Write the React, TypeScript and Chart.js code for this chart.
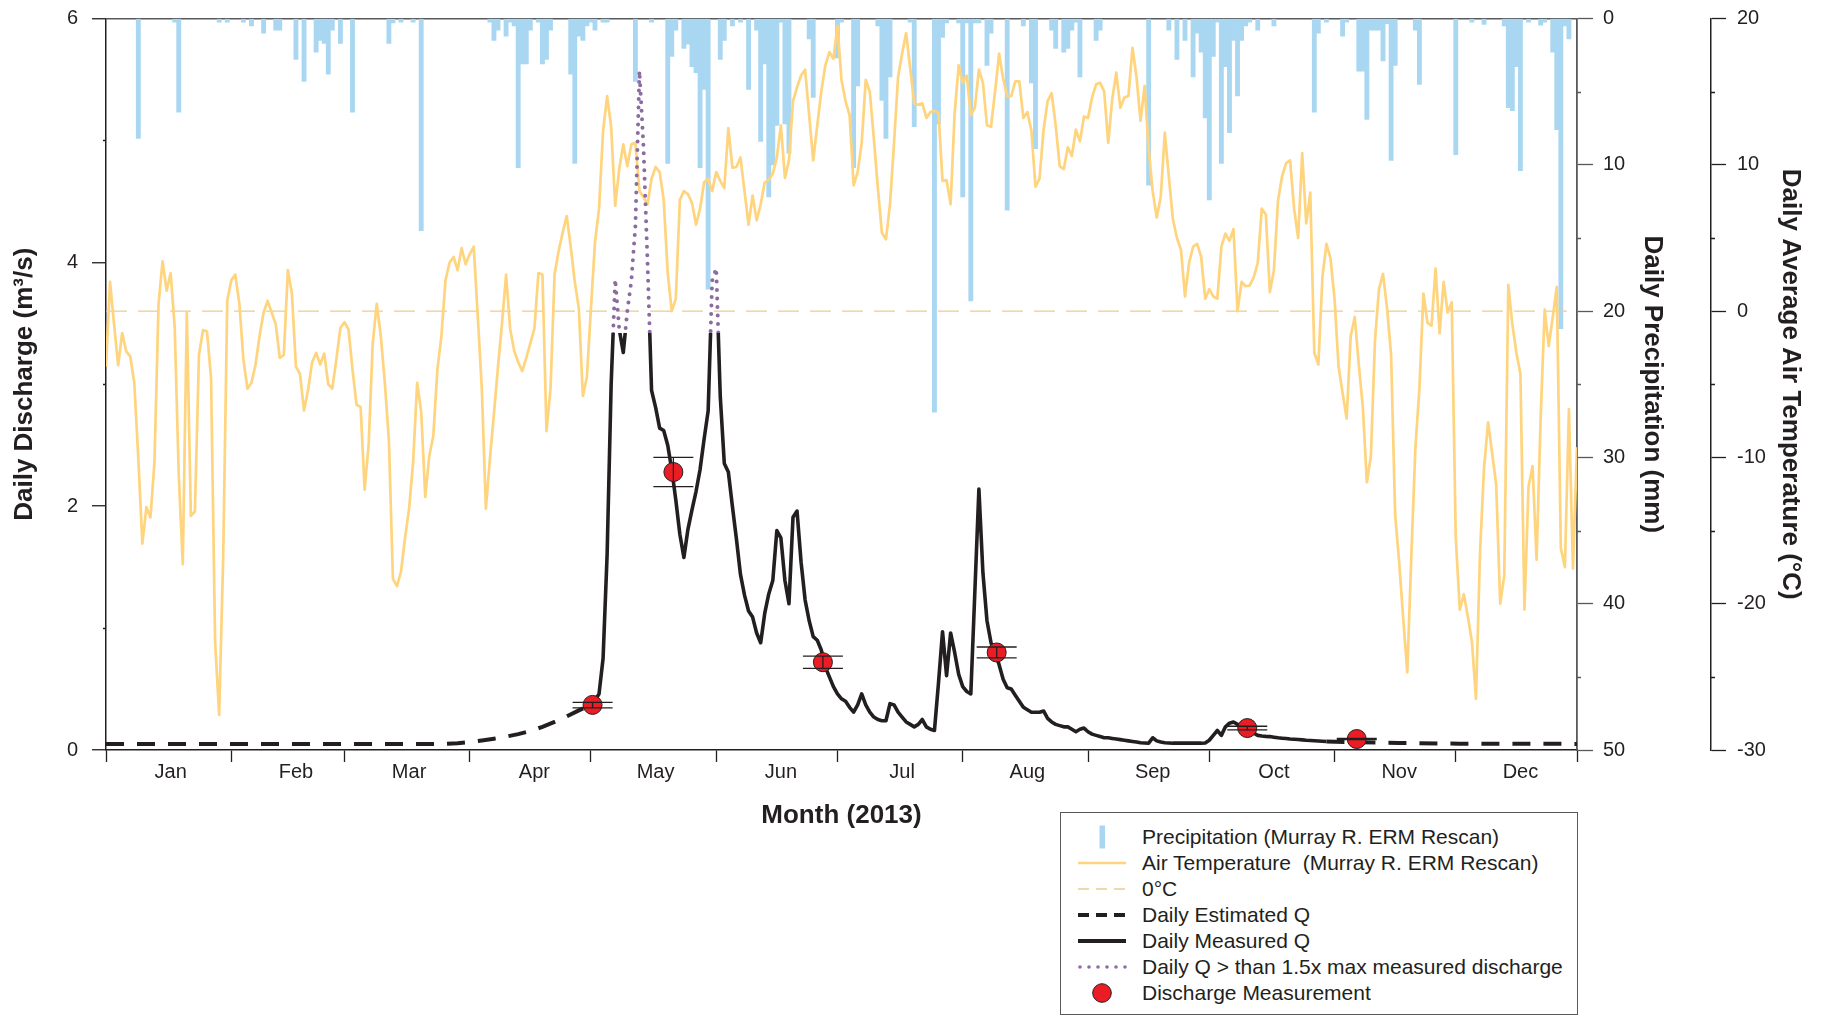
import React, { useEffect, useRef } from 'react';
import { Chart, registerables } from 'chart.js';

Chart.register(...registerables);

const FONT = '"Liberation Sans", Arial, Helvetica, sans-serif';
const INK = '#231f20';
const GREY = '#58595b';
const TEMP_COLOR = '#FFD47E';
const RAIN_COLOR = '#A9D7F1';
const ZERO_COLOR = '#EBCB94';
const PEAK_COLOR = '#8C6BA1';
const SAMPLE_COLOR = '#EC1C24';

// ---- calendar (day 0 = 1 Jan 2013, day 364 = 31 Dec 2013) ----
const monthLabels = ['Jan', 'Feb', 'Mar', 'Apr', 'May', 'Jun', 'Jul', 'Aug', 'Sep', 'Oct', 'Nov', 'Dec'];
const monthStartDays = [0, 31, 59, 90, 120, 151, 181, 212, 243, 273, 304, 334];
const lastDay = 364;

// ---- daily average air temperature (°C), one value per day ----
const airTempC = [
  -3.8, 2.0, -0.9, -3.7, -1.5, -2.75, -3.1, -4.9, -10.1, -15.9,
  -13.4, -14.1, -10.3, 0.5, 3.4, 1.4, 2.6, -1.1, -11.2, -17.3,
  -0.1, -14.0, -13.7, -3.0, -1.3, -1.4, -4.6, -22.6, -27.6, -16.8,
  0.7, 2.1, 2.5, 0.5, -3.3, -5.3, -4.9, -3.65, -1.7, -0.1,
  0.7, -0.1, -0.9, -3.2, -3.0, 2.8, 1.2, -3.8, -4.3, -6.8,
  -5.4, -3.5, -2.85, -3.65, -2.9, -5.0, -5.3, -3.3, -1.15, -0.76,
  -1.24, -4.0, -6.4, -6.55, -12.2, -9.1, -2.2, 0.5, -1.7, -4.9,
  -8.8, -18.3, -18.8, -17.8, -15.5, -13.5, -10.3, -4.9, -6.9, -12.7,
  -9.9, -8.5, -4.0, -1.7, 2.1, 3.3, 3.7, 2.8, 4.3, 3.2,
  3.9, 4.4, -0.4, -5.3, -13.5, -10.1, -7.0, -3.8, -0.8, 2.5,
  -1.2, -2.7, -3.5, -4.1, -3.2, -2.2, -1.2, 2.6, 2.5, -8.2,
  -5.3, 2.5, 4.1, 5.35, 6.5, 4.4, 2.0, 0.2, -5.8, -4.5,
  0.2, 4.7, 7.0, 12.3, 14.7, 12.6, 7.2, 9.7, 11.4, 9.9,
  11.4, 11.5, 8.2, 7.8, 7.3, 9.05, 9.85, 9.5, 7.6, 2.6,
  0.0, 0.85, 7.6, 8.2, 8.0, 7.4, 5.9, 7.0, 8.8, 9.05,
  8.2, 9.5, 8.9, 8.4, 12.5, 9.8, 9.85, 10.5, 8.2, 5.9,
  7.9, 6.2, 7.3, 8.8, 8.95, 9.4, 10.5, 12.7, 9.1, 10.3,
  14.35, 15.3, 16.1, 16.5, 13.4, 10.3, 12.7, 15.0, 16.8, 17.7,
  17.25, 19.5, 15.8, 14.35, 13.4, 8.6, 9.5, 11.5, 15.8, 15.0,
  11.8, 8.4, 5.35, 4.9, 7.3, 11.5, 16.0, 17.6, 19.0, 16.6,
  14.2, 14.1, 14.2, 13.2, 13.6, 13.7, 13.55, 8.9, 8.95, 7.3,
  13.55, 16.8, 15.6, 16.1, 13.4, 13.9, 16.5, 15.6, 12.7, 12.6,
  15.0, 17.6, 15.9, 14.7, 14.7, 15.7, 15.7, 13.2, 13.6, 12.3,
  8.5, 9.05, 12.4, 14.35, 14.9, 12.7, 9.9, 9.7, 11.2, 10.6,
  12.4, 11.6, 13.3, 13.2, 14.6, 15.5, 15.6, 15.0, 11.5, 14.5,
  16.3, 13.9, 14.6, 14.7, 18.0, 16.0, 13.0, 15.4, 11.1, 8.2,
  6.4, 7.8, 12.2, 9.2, 6.3, 5.0, 4.2, 1.0, 3.3, 4.4,
  4.6, 3.7, 0.85, 1.5, 1.0, 0.85, 4.4, 5.3, 4.8, 5.6,
  0.0, 2.0, 1.7, 1.75, 2.3, 3.3, 7.0, 6.6, 1.3, 2.8,
  7.5, 9.2, 10.1, 10.3, 7.0, 5.0, 10.8, 6.0, 8.1, -2.85,
  -3.65, 2.3, 4.6, 3.6, 0.85, -3.8, -5.6, -7.35, -1.7, -0.4,
  -3.65, -6.55, -11.7, -9.9, -2.05, 1.5, 2.55, 0.2, -3.0, -13.9,
  -17.2, -21.0, -24.7, -16.8, -9.4, -5.3, 1.2, -0.8, -1.0, 2.9,
  -1.5, 2.0, -0.1, 0.6, -15.5, -20.4, -19.35, -20.9, -22.6, -26.5,
  -16.5, -10.7, -7.6, -9.7, -11.85, -20.0, -18.1, 1.8, -0.9, -2.85,
  -4.3, -20.4, -12.0, -10.6, -17.0, -7.35, 0.1, -2.4, -0.4, 1.65,
  -16.2, -17.5, -6.7, -17.6, -9.3,
];

// ---- daily precipitation (mm), wet days only ----
const rainDays = [
  8, 17, 18, 28, 30, 34, 36, 39, 42, 43, 47, 49, 52, 53, 54, 55, 56, 58, 61, 70,
  71, 73, 76, 78, 95, 96, 97, 99, 100, 101, 102, 103, 104, 105, 107, 108, 109, 110, 115, 116,
  117, 118, 119, 120, 121, 123, 124, 131, 135, 139, 140, 141, 143, 144, 145, 146, 147, 148, 149, 152,
  153, 155, 157, 159, 161, 162, 163, 164, 165, 166, 167, 168, 169, 174, 175, 181, 182, 185, 186, 191,
  192, 193, 194, 199, 200, 205, 206, 207, 208, 211, 212, 213, 214, 215, 216, 218, 219, 223, 227, 229,
  230, 234, 235, 237, 238, 239, 240, 241, 245, 246, 258, 263, 265, 267, 269, 270, 271, 272, 273, 274,
  275, 276, 277, 278, 279, 280, 281, 282, 283, 285, 289, 299, 300, 302, 306, 307, 310, 311, 312, 313,
  314, 315, 316, 317, 318, 319, 324, 325, 334, 338, 341, 346, 347, 348, 349, 350, 352, 355, 356, 358,
  359, 360, 361, 362,
];
const rainMm = [
  8.2, 0.25, 6.4, 0.25, 0.25, 0.25, 0.5, 1.0, 0.8, 0.8, 2.8, 4.3, 2.3, 1.5, 1.7, 3.8, 0.8, 1.7, 6.4, 1.7,
  0.3, 0.25, 0.25, 14.5, 0.25, 1.5, 0.8, 1.2, 0.25, 0.5, 10.2, 3.1, 3.1, 0.8, 0.25, 3.1, 2.8, 0.8, 3.8, 9.9,
  1.2, 1.5, 0.5, 0.25, 0.8, 0.25, 0.25, 4.3, 0.25, 9.9, 2.6, 0.8, 2.05, 1.75, 3.3, 3.7, 10.2, 4.85, 18.5, 2.8,
  1.5, 0.5, 0.25, 4.85, 0.8, 8.4, 3.1, 12.2, 10.0, 7.3, 0.25, 7.2, 9.2, 1.4, 5.4, 2.7, 0.25, 10.2, 4.6, 0.5,
  5.6, 8.2, 4.0, 0.25, 7.4, 26.9, 7.2, 1.3, 0.3, 0.3, 12.2, 0.3, 19.3, 0.3, 0.3, 3.2, 1.0, 13.1, 0.5, 4.4,
  8.9, 0.8, 2.05, 2.3, 2.05, 0.8, 0.25, 4.0, 1.5, 0.8, 11.4, 0.8, 2.8, 1.5, 4.0, 1.0, 2.3, 6.8, 12.4, 2.6,
  0.25, 9.9, 3.3, 7.8, 1.5, 5.3, 1.5, 0.5, 0.25, 0.8, 0.5, 6.4, 1.0, 0.25, 1.2, 0.25, 3.6, 3.6, 6.9, 0.8,
  0.8, 0.8, 2.9, 0.35, 9.7, 3.2, 0.8, 4.5, 9.3, 0.25, 0.4, 0.5, 6.1, 6.3, 3.3, 10.4, 0.25, 0.45, 0.25, 2.3,
  7.6, 21.2, 0.5, 1.4,
];

// ---- daily discharge (m³/s) ----
// estimated before gauging began and after it ended
const estDaysEarly = [0, 84, 87, 90, 93, 96, 99, 102, 105, 108, 111, 114, 117, 120];
const estQEarly = [0.05, 0.05, 0.056, 0.065, 0.078, 0.093, 0.11, 0.13, 0.155, 0.19, 0.23, 0.275, 0.325, 0.37];
const estDaysLate = [302, 310, 320, 335, 364];
const estQLate = [0.07, 0.063, 0.057, 0.052, 0.05];

// measured record, one value per day starting on day 120
const measuredFirstDay = 120;
const measuredQ = [
  0.37, 0.41, 0.46, 0.75, 1.60, 3.00, 3.86, 3.45, 3.26, 3.60,
  3.85, 4.30, 5.57, 4.95, 4.00, 2.95, 2.81, 2.64, 2.62, 2.50,
  2.30, 2.05, 1.77, 1.58, 1.81, 1.97, 2.12, 2.30, 2.55, 2.78,
  3.85, 3.95, 2.90, 2.35, 2.28, 2.00, 1.73, 1.44, 1.27, 1.14,
  1.09, 0.96, 0.88, 1.12, 1.28, 1.39, 1.80, 1.74, 1.39, 1.20,
  1.91, 1.96, 1.54, 1.23, 1.06, 0.93, 0.90, 0.82, 0.68, 0.60,
  0.52, 0.46, 0.42, 0.40, 0.35, 0.31, 0.37, 0.46, 0.37, 0.31,
  0.27, 0.25, 0.24, 0.24, 0.38, 0.37, 0.31, 0.27, 0.23, 0.21,
  0.19, 0.21, 0.25, 0.19, 0.17, 0.16, 0.55, 0.97, 0.61, 0.96,
  0.80, 0.62, 0.52, 0.48, 0.46, 1.30, 2.14, 1.45, 1.06, 0.88,
  0.80, 0.70, 0.58, 0.51, 0.50, 0.45, 0.40, 0.35, 0.33, 0.31,
  0.31, 0.31, 0.32, 0.26, 0.23, 0.21, 0.20, 0.19, 0.19, 0.17,
  0.15, 0.17, 0.18, 0.15, 0.13, 0.12, 0.11, 0.10, 0.10, 0.095,
  0.09, 0.085, 0.08, 0.075, 0.07, 0.065, 0.06, 0.058, 0.056, 0.10,
  0.075, 0.065, 0.06, 0.058, 0.056, 0.056, 0.056, 0.056, 0.056, 0.056,
  0.056, 0.056, 0.058, 0.08, 0.12, 0.16, 0.12, 0.19, 0.22, 0.23,
  0.21, 0.19, 0.18, 0.16, 0.14, 0.12, 0.115, 0.112, 0.11, 0.105,
  0.10, 0.097, 0.094, 0.09, 0.088, 0.086, 0.083, 0.08, 0.078, 0.076,
  0.074, 0.072, 0.07,
];

// field discharge measurements with their uncertainty range
const sampleDays = [120.4, 140.4, 177.4, 220.4, 282.4, 309.5];
const sampleQ = [0.37, 2.28, 0.72, 0.8, 0.18, 0.09];
const sampleLow = [0.345, 2.16, 0.67, 0.755, 0.165, 0.085];
const sampleHigh = [0.39, 2.4, 0.77, 0.845, 0.195, 0.095];

// daily Q above this is flagged (1.5x the largest measured discharge)
const peakLimit = 1.5 * Math.max(...sampleQ);

// month names sit near the middle of each month (the 16th/17th)
const monthLabelDays = monthStartDays.map((s) => s + 16);
const monthEdges = [...monthStartDays, lastDay];
const xTickValues = [...monthEdges, ...monthLabelDays].sort((a, b) => a - b);

const toXY = (xs: number[], ys: number[]) => xs.map((x, i) => ({ x, y: ys[i] }));
const measuredPoints = measuredQ.map((q, i) => ({ x: measuredFirstDay + i, y: q }));

// splits the measured hydrograph at the flag threshold: solid below, dotted above
const peakClipPlugin = {
  id: 'peakClip',
  beforeDatasetDraw(chart: any, args: any) {
    const ds = chart.data.datasets[args.index];
    if (!ds.qBand) return;
    const { ctx, chartArea: a } = chart;
    const yLim = chart.scales.y.getPixelForValue(peakLimit);
    ctx.save();
    ctx.beginPath();
    if (ds.qBand === 'low') ctx.rect(a.left - 10, yLim, a.right - a.left + 20, a.bottom - yLim + 10);
    else ctx.rect(a.left - 10, a.top - 10, a.right - a.left + 20, yLim - a.top + 10);
    ctx.clip();
  },
  afterDatasetDraw(chart: any, args: any) {
    const ds = chart.data.datasets[args.index];
    if (ds.qBand) chart.ctx.restore();
  },
};

// uncertainty bars on the field measurements
const errorBarPlugin = {
  id: 'sampleErrorBars',
  afterDatasetsDraw(chart: any) {
    const { ctx } = chart;
    const xs = chart.scales.x;
    const ys = chart.scales.y;
    const cap = 20;
    ctx.save();
    ctx.strokeStyle = INK;
    ctx.lineWidth = 1.3;
    sampleDays.forEach((d, i) => {
      const x = xs.getPixelForValue(d);
      const yLo = ys.getPixelForValue(sampleLow[i]);
      const yHi = ys.getPixelForValue(sampleHigh[i]);
      ctx.beginPath();
      ctx.moveTo(x, yLo);
      ctx.lineTo(x, yHi);
      ctx.moveTo(x - cap, yLo);
      ctx.lineTo(x + cap, yLo);
      ctx.moveTo(x - cap, yHi);
      ctx.lineTo(x + cap, yHi);
      ctx.stroke();
    });
    ctx.restore();
  },
};

// short unlabelled ticks between the labelled ones
const minorTickPlugin = {
  id: 'minorTicks',
  afterDraw(chart: any) {
    const { ctx, chartArea: a, scales } = chart;
    const draw = (scale: any, values: number[], x0: number, x1: number, color: string) => {
      ctx.save();
      ctx.strokeStyle = color;
      ctx.lineWidth = 1.3;
      ctx.beginPath();
      values.forEach((v) => {
        const y = Math.round(scale.getPixelForValue(v)) + 0.5;
        ctx.moveTo(x0, y);
        ctx.lineTo(x1, y);
      });
      ctx.stroke();
      ctx.restore();
    };
    draw(scales.y, [1, 3, 5], a.left - 3, a.left, INK);
    draw(scales.y2, [5, 15, 25, 35, 45], a.right, a.right + 4, GREY);
    draw(scales.y3, [15, 5, -5, -15, -25], scales.y3.left, scales.y3.left + 4, INK);
  },
};

const titleFont = { size: 26, weight: 'bold' as const, family: FONT };
const tickFont = { size: 20, family: FONT };

function buildConfig(): any {
  return {
    type: 'line',
    data: {
      datasets: [
        {
          type: 'bar',
          label: 'Precipitation',
          data: toXY(rainDays, rainMm),
          yAxisID: 'y2',
          backgroundColor: RAIN_COLOR,
          borderWidth: 0,
          barThickness: 4.2,
          order: 10,
        },
        {
          label: '0°C',
          data: [{ x: 0, y: 0 }, { x: lastDay, y: 0 }],
          yAxisID: 'y3',
          borderColor: ZERO_COLOR,
          borderWidth: 1.3,
          borderDash: [21, 11],
          pointRadius: 0,
          order: 9,
        },
        {
          label: 'Air Temperature',
          data: airTempC.map((t, d) => ({ x: d, y: t })),
          yAxisID: 'y3',
          borderColor: TEMP_COLOR,
          borderWidth: 2.7,
          borderJoinStyle: 'round',
          pointRadius: 0,
          tension: 0,
          order: 8,
        },
        {
          label: 'Daily Estimated Q',
          data: toXY(estDaysEarly, estQEarly),
          yAxisID: 'y',
          borderColor: INK,
          borderWidth: 4,
          borderDash: [18, 13],
          pointRadius: 0,
          order: 6,
        },
        {
          label: 'Daily Estimated Q (late)',
          data: toXY(estDaysLate, estQLate),
          yAxisID: 'y',
          borderColor: INK,
          borderWidth: 4,
          borderDash: [18, 13],
          pointRadius: 0,
          order: 6,
        },
        {
          label: 'Daily Measured Q',
          data: measuredPoints,
          yAxisID: 'y',
          borderColor: INK,
          borderWidth: 3.6,
          borderJoinStyle: 'round',
          pointRadius: 0,
          qBand: 'low',
          order: 5,
        },
        {
          label: 'Daily Q > than 1.5x max measured discharge',
          data: measuredPoints,
          yAxisID: 'y',
          borderColor: PEAK_COLOR,
          borderWidth: 4,
          borderDash: [0, 8.5],
          borderCapStyle: 'round',
          pointRadius: 0,
          qBand: 'high',
          order: 4,
        },
        {
          label: 'Discharge Measurement',
          data: toXY(sampleDays, sampleQ),
          yAxisID: 'y',
          showLine: false,
          pointRadius: 9.5,
          pointBackgroundColor: SAMPLE_COLOR,
          pointBorderColor: INK,
          pointBorderWidth: 1,
          order: 1,
        },
      ],
    },
    options: {
      responsive: true,
      maintainAspectRatio: false,
      animation: false,
      events: [],
      layout: { padding: { top: 8, right: 0, bottom: 166, left: 0 } },
      plugins: { legend: { display: false }, tooltip: { enabled: false } },
      scales: {
        x: {
          type: 'linear',
          min: 0,
          max: lastDay,
          offset: false,
          afterBuildTicks: (s: any) => {
            s.ticks = xTickValues.map((v) => ({ value: v }));
          },
          afterFit: (s: any) => {
            s.height = 92;
            s.paddingLeft = 0;
            s.paddingRight = 0;
          },
          ticks: {
            autoSkip: false,
            maxRotation: 0,
            minRotation: 0,
            padding: 0,
            color: INK,
            font: { ...tickFont, lineHeight: 1 },
            callback: (v: number) => {
              const i = monthLabelDays.indexOf(v);
              return i >= 0 ? monthLabels[i] : '';
            },
          },
          grid: {
            offset: false,
            drawOnChartArea: false,
            drawTicks: true,
            tickLength: 12,
            tickWidth: 1.3,
            tickColor: (c: any) => (c.tick && monthEdges.includes(c.tick.value) ? INK : 'rgba(0,0,0,0)'),
          },
          border: { display: true, color: INK, width: 1.5 },
          title: {
            display: true,
            text: 'Month (2013)',
            color: INK,
            font: titleFont,
            padding: { top: 0, bottom: 11 },
          },
        },
        y: {
          position: 'left',
          min: 0,
          max: 6,
          afterBuildTicks: (s: any) => {
            s.ticks = [0, 2, 4, 6].map((v) => ({ value: v }));
          },
          afterFit: (s: any) => {
            s.width = 98;
            s.paddingTop = 0;
            s.paddingBottom = 0;
          },
          ticks: { padding: 14, color: INK, font: tickFont },
          grid: {
            drawOnChartArea: true,
            color: (c: any) => (c.tick && c.tick.value === 6 ? GREY : 'rgba(0,0,0,0)'),
            lineWidth: 1.5,
            tickLength: 14,
            tickWidth: 1.3,
            tickColor: INK,
          },
          border: { display: true, color: INK, width: 1.5 },
          title: {
            display: true,
            text: 'Daily Discharge (m³/s)',
            color: INK,
            font: titleFont,
            padding: { top: 1, bottom: 0 },
          },
        },
        y2: {
          position: 'right',
          weight: 1,
          reverse: true,
          min: 0,
          max: 50,
          afterBuildTicks: (s: any) => {
            s.ticks = [0, 10, 20, 30, 40, 50].map((v) => ({ value: v }));
          },
          afterFit: (s: any) => {
            s.width = 134;
            s.paddingTop = 0;
            s.paddingBottom = 0;
          },
          ticks: { padding: 10, color: INK, font: tickFont },
          grid: { offset: false, drawOnChartArea: false, tickLength: 16, tickWidth: 1.3, tickColor: GREY },
          border: { display: true, color: GREY, width: 1.8 },
          title: {
            display: true,
            text: 'Daily Precipitation (mm)',
            color: INK,
            font: titleFont,
            padding: { top: 43, bottom: 0 },
          },
        },
        y3: {
          position: 'right',
          weight: 2,
          min: -30,
          max: 20,
          afterBuildTicks: (s: any) => {
            s.ticks = [-30, -20, -10, 0, 10, 20].map((v) => ({ value: v }));
          },
          afterFit: (s: any) => {
            s.width = 103;
            s.paddingTop = 0;
            s.paddingBottom = 0;
          },
          ticks: { padding: 11, color: INK, font: tickFont },
          grid: { drawOnChartArea: false, tickLength: 15, tickWidth: 1.3, tickColor: INK },
          border: { display: true, color: INK, width: 1.5 },
          title: {
            display: true,
            text: 'Daily Average Air Temperature (°C)',
            color: INK,
            font: titleFont,
            padding: { top: 8, bottom: 0 },
          },
        },
      },
    },
    plugins: [peakClipPlugin, errorBarPlugin, minorTickPlugin],
  };
}

type LegendKind = 'bar' | 'temp' | 'zero' | 'est' | 'meas' | 'peak' | 'dot';
const legendItems: { kind: LegendKind; text: string }[] = [
  { kind: 'bar', text: 'Precipitation (Murray R. ERM Rescan)' },
  { kind: 'temp', text: 'Air Temperature  (Murray R. ERM Rescan)' },
  { kind: 'zero', text: '0°C' },
  { kind: 'est', text: 'Daily Estimated Q' },
  { kind: 'meas', text: 'Daily Measured Q' },
  { kind: 'peak', text: 'Daily Q > than 1.5x max measured discharge' },
  { kind: 'dot', text: 'Discharge Measurement' },
];

function LegendSymbol({ kind }: { kind: LegendKind }) {
  let shape: React.ReactNode = null;
  if (kind === 'bar') shape = <rect x={38.5} y={1.5} width={5.5} height={23} fill={RAIN_COLOR} />;
  if (kind === 'temp') shape = <line x1={17} y1={13} x2={65} y2={13} stroke={TEMP_COLOR} strokeWidth={2.6} />;
  if (kind === 'zero')
    shape = <line x1={17} y1={13} x2={65} y2={13} stroke={ZERO_COLOR} strokeWidth={1.3} strokeDasharray="11 7" />;
  if (kind === 'est')
    shape = <line x1={17} y1={13} x2={65} y2={13} stroke={INK} strokeWidth={4} strokeDasharray="11 7" />;
  if (kind === 'meas') shape = <line x1={17} y1={13} x2={65} y2={13} stroke={INK} strokeWidth={4} />;
  if (kind === 'peak')
    shape = (
      <line
        x1={19}
        y1={13}
        x2={65}
        y2={13}
        stroke={PEAK_COLOR}
        strokeWidth={3.6}
        strokeDasharray="0 9"
        strokeLinecap="round"
      />
    );
  if (kind === 'dot') shape = <circle cx={41} cy={13} r={9.3} fill={SAMPLE_COLOR} stroke={INK} strokeWidth={1} />;
  return (
    <svg width={81} height={26} style={{ display: 'block', flex: '0 0 auto' }}>
      {shape}
    </svg>
  );
}

function Legend() {
  return (
    <div
      style={{
        position: 'absolute',
        left: 1052,
        top: 804,
        width: 518,
        height: 203,
        boxSizing: 'border-box',
        border: `1.5px solid ${GREY}`,
        background: '#fff',
        paddingTop: 11,
        fontFamily: FONT,
        fontSize: 21,
        color: INK,
      }}
    >
      {legendItems.map((it) => (
        <div key={it.text} style={{ display: 'flex', alignItems: 'center', height: 26 }}>
          <LegendSymbol kind={it.kind} />
          <span style={{ whiteSpace: 'pre', lineHeight: '26px' }}>{it.text}</span>
        </div>
      ))}
    </div>
  );
}

export default function App() {
  const canvasRef = useRef<HTMLCanvasElement | null>(null);

  useEffect(() => {
    if (!canvasRef.current) return;
    // the figure runs to the bottom edge of the window, so drop the body's bottom margin
    const prevMargin = document.body.style.marginBottom;
    document.body.style.marginBottom = '0px';
    Chart.defaults.font.family = FONT;
    Chart.defaults.color = INK;
    const chart = new Chart(canvasRef.current, buildConfig());
    return () => {
      chart.destroy();
      document.body.style.marginBottom = prevMargin;
    };
  }, []);

  return (
    <div style={{ position: 'relative', width: 1806, height: 1008 }}>
      <div style={{ position: 'relative', width: 1806, height: 1000 }}>
        <canvas ref={canvasRef} />
      </div>
      <Legend />
    </div>
  );
}
